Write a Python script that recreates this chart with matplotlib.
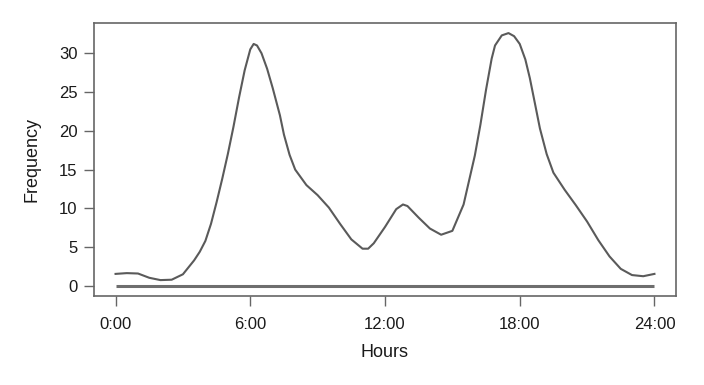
import matplotlib
matplotlib.use("Agg")
import matplotlib.pyplot as plt

# Density-like curve (hours, frequency)
hours = [0.0, 0.5, 1.0, 1.5, 2.0, 2.5, 3.0, 3.5, 3.75, 4.0, 4.25, 4.5, 4.75, 5.0, 5.25,
         5.5, 5.75, 6.0, 6.15, 6.3, 6.5, 6.75, 7.0, 7.32, 7.5, 7.75, 8.0, 8.5, 9.0,
         9.5, 10.0, 10.5, 11.0, 11.25, 11.5, 12.0, 12.5, 12.8, 13.0, 13.5, 14.0,
         14.5, 15.0, 15.5, 16.0, 16.25, 16.5, 16.75, 16.9, 17.2, 17.5, 17.75, 18.0,
         18.25, 18.45, 18.7, 18.9, 19.2, 19.5, 20.0, 20.5, 21.0, 21.5, 22.0, 22.5,
         23.0, 23.5, 24.0]
frequency = [1.55, 1.65, 1.6, 1.05, 0.75, 0.8, 1.5, 3.3, 4.4, 5.8, 8.0, 10.8, 13.8, 17.0, 20.5,
             24.3, 27.8, 30.5, 31.2, 31.0, 30.0, 28.0, 25.5, 22.0, 19.5, 16.9, 15.0, 13.0, 11.7,
             10.1, 8.0, 6.0, 4.8, 4.8, 5.5, 7.6, 9.9, 10.5, 10.3, 8.8, 7.4,
             6.6, 7.1, 10.5, 16.8, 20.8, 25.3, 29.3, 31.0, 32.3, 32.6, 32.2, 31.2,
             29.2, 26.8, 23.2, 20.3, 17.0, 14.6, 12.4, 10.4, 8.3, 5.9, 3.8, 2.2,
             1.4, 1.25, 1.55]

baseline_hours = [0, 24]
baseline_vals = [0, 0]

xticks = [0, 6, 12, 18, 24]
xticklabels = ["0:00", "6:00", "12:00", "18:00", "24:00"]
yticks = [0, 5, 10, 15, 20, 25, 30]

plt.rcParams['font.family'] = ['Liberation Sans', 'DejaVu Sans']

fig = plt.figure(figsize=(7.04, 3.85), dpi=100)
ax = fig.add_axes([94/704, 1-296/385, (676-94)/704, (296-23)/385])

ax.plot(baseline_hours, baseline_vals, color="#6e6e6e", lw=2.2, solid_capstyle="butt")
ax.plot(hours, frequency, color="#5a5a5a", lw=1.5, solid_joinstyle="round")

ax.set_xlim(-0.96, 24.96)
ax.set_ylim(-1.3, 33.9)
ax.set_xticks(xticks)
ax.set_xticklabels(xticklabels)
ax.set_yticks(yticks)

for s in ax.spines.values():
    s.set_color("#666666")
    s.set_linewidth(1.2)

ax.tick_params(axis="both", direction="out", length=7, width=1, color="#666666",
               labelsize=12, labelcolor="#1a1a1a")
ax.tick_params(axis="x", pad=8)
ax.tick_params(axis="y", pad=5)

ax.set_xlabel("Hours", fontsize=13, color="#1a1a1a", labelpad=9)
ax.set_ylabel("Frequency", fontsize=13, color="#1a1a1a", labelpad=13)

fig.savefig("out.png", dpi=100)
